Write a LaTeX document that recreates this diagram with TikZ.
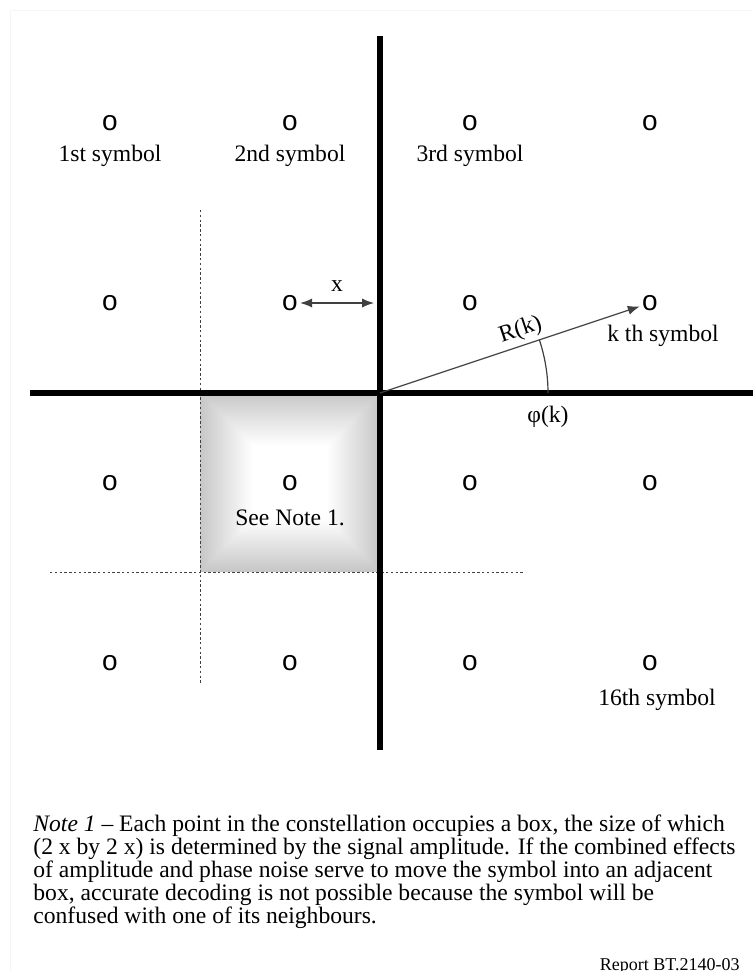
\documentclass[tikz,border=0pt]{standalone}
\usepackage{fontspec}
\setmainfont{Liberation Serif}
\newfontfamily\pointfont{Liberation Sans}
\usetikzlibrary{positioning, arrows.meta, calc}

\begin{document}
\begin{tikzpicture}[
            x=0.5pt, y=-0.5pt,
            sym/.style={inner sep=1pt, font=\fontsize{14}{14}\pointfont},
            lbl/.style={inner sep=0pt, font=\fontsize{11.8}{14}\selectfont},
            axis/.style={line width=3pt, draw=black},
            boxline/.style={draw=black!75, line width=0.5pt, dash pattern=on 1.2pt off 1.2pt},
            vec/.style={draw=black!75, line width=0.6pt, -{Latex[length=6pt, width=4.6pt]}},
            dvec/.style={draw=black!75, line width=0.6pt, {Latex[length=6pt, width=4.6pt]}-{Latex[length=6pt, width=4.6pt]}}
            ]

            \useasboundingbox (0,0) rectangle (753,971);
            \draw[black!4] (10,971) -- (10,10) -- (753,10);

            % Shaded box of the 2nd column, 3rd row
            \foreach \i in {0,...,89} {
                \pgfmathsetmacro\g{max(0,22-0.42*\i)}
                \fill[black!\g] (200+\i,393+\i) rectangle (380-\i,572-\i);
            }

            % Box edges
            \draw[boxline] (200,210) -- (200,683);
            \draw[boxline] (50,572) -- (523,572);

            % Axes
            \coordinate (O) at (380,393);
            \draw[axis] (380,36) -- (380,750);
            \draw[axis] (30,393) -- (753,393);

            % Row 1
            \node[sym] (s11) at (110,123) {o};
            \node[sym] (s12) at (290,123) {o};
            \node[sym] (s13) at (470,123) {o};
            \node[sym] (s14) at (650,123) {o};

            % Row 2
            \node[sym] (s21) at (110,303) {o};
            \node[sym] (s22) at (290,303) {o};
            \node[sym] (s23) at (470,303) {o};
            \node[sym] (s24) at (650,303) {o};

            % Row 3
            \node[sym] (s31) at (110,483) {o};
            \node[sym] (s32) at (290,483) {o};
            \node[sym] (s33) at (470,483) {o};
            \node[sym] (s34) at (650,483) {o};

            % Row 4
            \node[sym] (s41) at (110,663) {o};
            \node[sym] (s42) at (290,663) {o};
            \node[sym] (s43) at (470,663) {o};
            \node[sym] (s44) at (650,663) {o};

            % Symbol labels
            \node[lbl, below=6pt of s11] (l1) {1st symbol};
            \node[lbl, below=6pt of s12] (l2) {2nd symbol};
            \node[lbl, below=6pt of s13] (l3) {3rd symbol};
            \node[lbl, below=6pt of s24, xshift=6.5pt] (lk) {k th symbol};
            \node[lbl, below=8pt of s32] (lnote) {See Note 1.};
            \node[lbl, below=8pt of s44, xshift=3.5pt] (l16) {16th symbol};

            % Half box width x
            \coordinate (xend) at (374,303);
            \draw[dvec] (s22) -- node[lbl, above=5.5pt] (xl) {x} (xend);

            % Vector and phase of the kth symbol
            \draw[vec] (O) -- node[lbl, pos=0.56, sloped, above=2pt] (rk) {R(k)} (s24);
            \draw[draw=black!75, line width=0.6pt] (O) ++(168,0) coordinate (phistart) arc[start angle=0, end angle=-18.43, radius=168];
            \node[lbl, below=6.5pt of phistart] (phi) {φ(k)};

            % Note
            \node[anchor=north west, inner sep=0pt, align=left, font=\fontsize{11.8}{11.5}\selectfont] (note) at (33,814) {
                \textit{Note 1} -- Each point in the constellation occupies a box, the size of which\\
                (2 x by 2 x) is determined by the signal amplitude. If the combined effects\\
                of amplitude and phase noise serve to move the symbol into an adjacent\\
                box, accurate decoding is not possible because the symbol will be\\
                confused with one of its neighbours.
            };

            \node[anchor=base east, inner sep=0pt, font=\fontsize{9}{10}\selectfont] (report) at (740,970) {Report BT.2140-03};

        \end{tikzpicture}
\end{document}
